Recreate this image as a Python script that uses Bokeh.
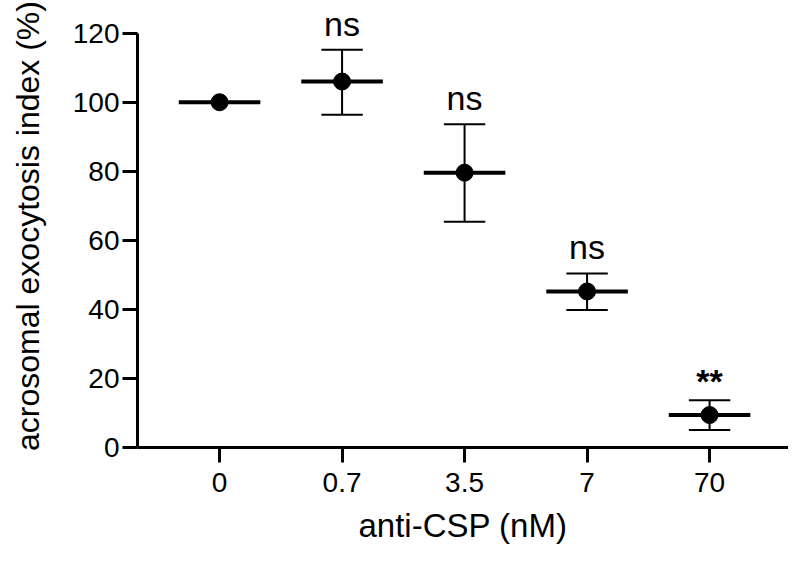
from bokeh.plotting import figure
from bokeh.models import Range1d, FixedTicker, ColumnDataSource, Label
from bokeh.embed import file_html
from bokeh.resources import INLINE

categories = ["0", "0.7", "3.5", "7", "70"]
means = [100.0, 106.0, 79.6, 45.2, 9.4]
upper = [100.0, 115.2, 93.6, 50.4, 13.7]
lower = [100.0, 96.4, 65.4, 39.8, 5.1]
has_error = [False, True, True, True, True]
annotations = ["", "ns", "ns", "ns", "**"]
y_ticks = [0, 20, 40, 60, 80, 100, 120]
y_axis_bounds = (0, 120)

FONT = "Liberation Sans"
xs = list(range(len(categories)))

# frame 443 px tall; axis 0..120 occupies 414.3 px, the rest is headroom for labels
p = figure(width=788, height=556, output_backend="svg", toolbar_location=None,
           x_range=Range1d(-0.67, -0.67 + 651 / 122.5),
           y_range=Range1d(0, 120 * 443 / 414.3),
           min_border_left=137, min_border_right=0, min_border_top=4, min_border_bottom=109)
p.outline_line_color = None
p.xgrid.grid_line_color = None
p.ygrid.grid_line_color = None
p.background_fill_color = "white"
p.border_fill_color = "white"

for ax in (p.xaxis[0], p.yaxis[0]):
    ax.axis_line_width = 3
    ax.axis_line_color = "black"
    ax.major_tick_line_width = 3
    ax.major_tick_line_color = "black"
    ax.major_tick_out = 15
    ax.major_tick_in = 0
    ax.minor_tick_out = 0
    ax.minor_tick_in = 0
    ax.major_label_text_font = FONT
    ax.major_label_text_font_size = "28px"
    ax.major_label_text_color = "black"
    ax.axis_label_text_font = FONT
    ax.axis_label_text_font_style = "normal"
    ax.axis_label_text_color = "black"

p.xaxis.ticker = FixedTicker(ticks=xs)
p.xaxis.major_label_overrides = {i: c for i, c in enumerate(categories)}
p.xaxis.axis_label = "anti-CSP (nM)"
p.xaxis.axis_label_text_font_size = "33px"
p.xaxis.major_label_standoff = 10
p.xaxis.axis_label_standoff = 12

p.yaxis.ticker = FixedTicker(ticks=y_ticks)
p.yaxis.bounds = y_axis_bounds
p.yaxis.axis_label = "acrosomal exocytosis index (%)"
p.yaxis.axis_label_text_font_size = "32px"
p.yaxis.major_label_standoff = 3
p.yaxis.axis_label_standoff = 24

ex = [x for x, h in zip(xs, has_error) if h]
eu = [u for u, h in zip(upper, has_error) if h]
el = [l for l, h in zip(lower, has_error) if h]
err = ColumnDataSource(dict(x=ex, up=eu, lo=el,
                            cx0=[x - 0.169 for x in ex], cx1=[x + 0.169 for x in ex]))
p.segment(x0="x", y0="lo", x1="x", y1="up", source=err, line_color="black", line_width=2)
p.segment(x0="cx0", y0="up", x1="cx1", y1="up", source=err, line_color="black", line_width=2)
p.segment(x0="cx0", y0="lo", x1="cx1", y1="lo", source=err, line_color="black", line_width=2)

mean_src = ColumnDataSource(dict(x=xs, y=means,
                                 bx0=[x - 0.333 for x in xs], bx1=[x + 0.333 for x in xs]))
p.segment(x0="bx0", y0="y", x1="bx1", y1="y", source=mean_src, line_color="black", line_width=4)
p.scatter(x="x", y="y", source=mean_src, size=17, marker="circle",
          fill_color="black", line_color="black")

for x, u, a in zip(xs, upper, annotations):
    if not a:
        continue
    bold = a == "**"
    p.add_layout(Label(x=x, y=u, text=a, x_units="data", y_units="data",
                       y_offset=19 if bold else 26, text_align="center",
                       text_baseline="alphabetic", text_font=FONT, text_font_size="34px",
                       text_font_style="bold" if bold else "normal", text_color="black"))

open("out.html", "w").write(file_html(p, INLINE))
